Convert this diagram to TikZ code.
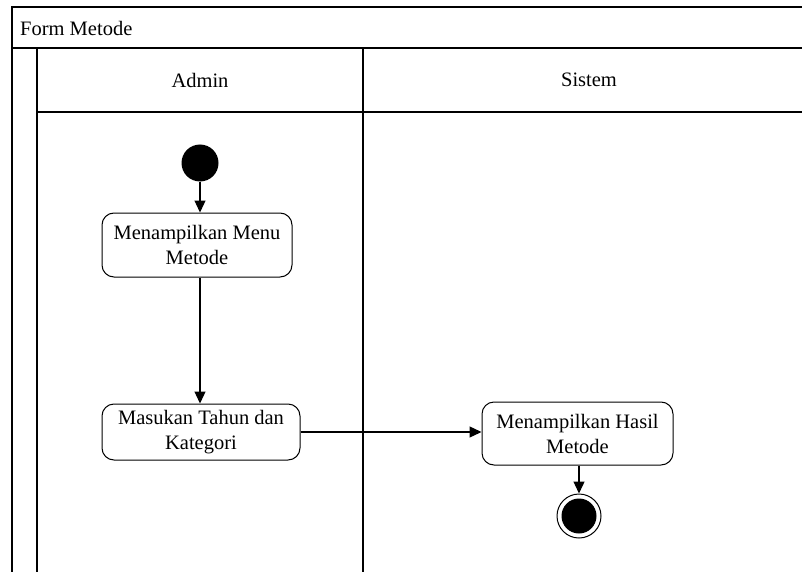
\documentclass[tikz,border=0pt]{standalone}
\usepackage{fontspec}
\setmainfont{Liberation Serif}
\usetikzlibrary{arrows.meta}
\begin{document}
\begin{tikzpicture}[x=1pt,y=-1pt,
  lane/.style={line width=1.6pt},
  action/.style={draw,line width=1pt,rounded corners=12pt,align=center,
    inner sep=0pt,font=\fontsize{20.5}{25}\selectfont},
  lbl/.style={font=\fontsize{20.5}{24}\selectfont,inner sep=0pt},
  arr/.style={line width=1.3pt,-{Triangle[length=12pt,width=11pt]}},
  flow/.style={line width=1.3pt}]
\useasboundingbox (0,0) rectangle (802,572);
% swimlane frame
\draw[lane] (12,572) -- (12,7) -- (803,7);
\draw[lane] (12,48) -- (803,48);
\draw[lane] (37,48) -- (37,572);
\draw[lane] (37,112) -- (803,112);
\draw[lane] (363,48) -- (363,572);
\node[lbl,anchor=west] (title) at (20,28) {Form Metode};
\node[lbl] (admin) at (200,80) {Admin};
\node[lbl] (sistem) at (589,80) {Sistem};
% activities
\node[circle,fill=black,minimum size=37pt,inner sep=0pt] (start) at (200,163) {};
\node[action,minimum width=190pt,minimum height=64pt] (menu) at (197,245)
  {Menampilkan Menu\\Metode};
\node[action,minimum width=198pt,minimum height=56pt] (input) at (201,432)
  {Masukan Tahun dan\\Kategori};
\node[action,minimum width=191pt,minimum height=63pt] (hasil) at (577.5,433.5)
  {Menampilkan Hasil\\Metode};
\node[circle,draw,line width=1pt,minimum size=44pt,inner sep=0pt] (end) at (579,516) {};
\node[circle,fill=black,minimum size=35pt,inner sep=0pt] (endin) at (end.center) {};
% flows
\draw[arr] (start) -- (start |- menu.north);
\draw[arr] (start |- menu.south) -- (start |- input.north);
\draw[arr] (input.east) -- (input.east -| hasil.west);
\draw[arr] (hasil.south -| end.north) -- (end.north);
\end{tikzpicture}
\end{document}
